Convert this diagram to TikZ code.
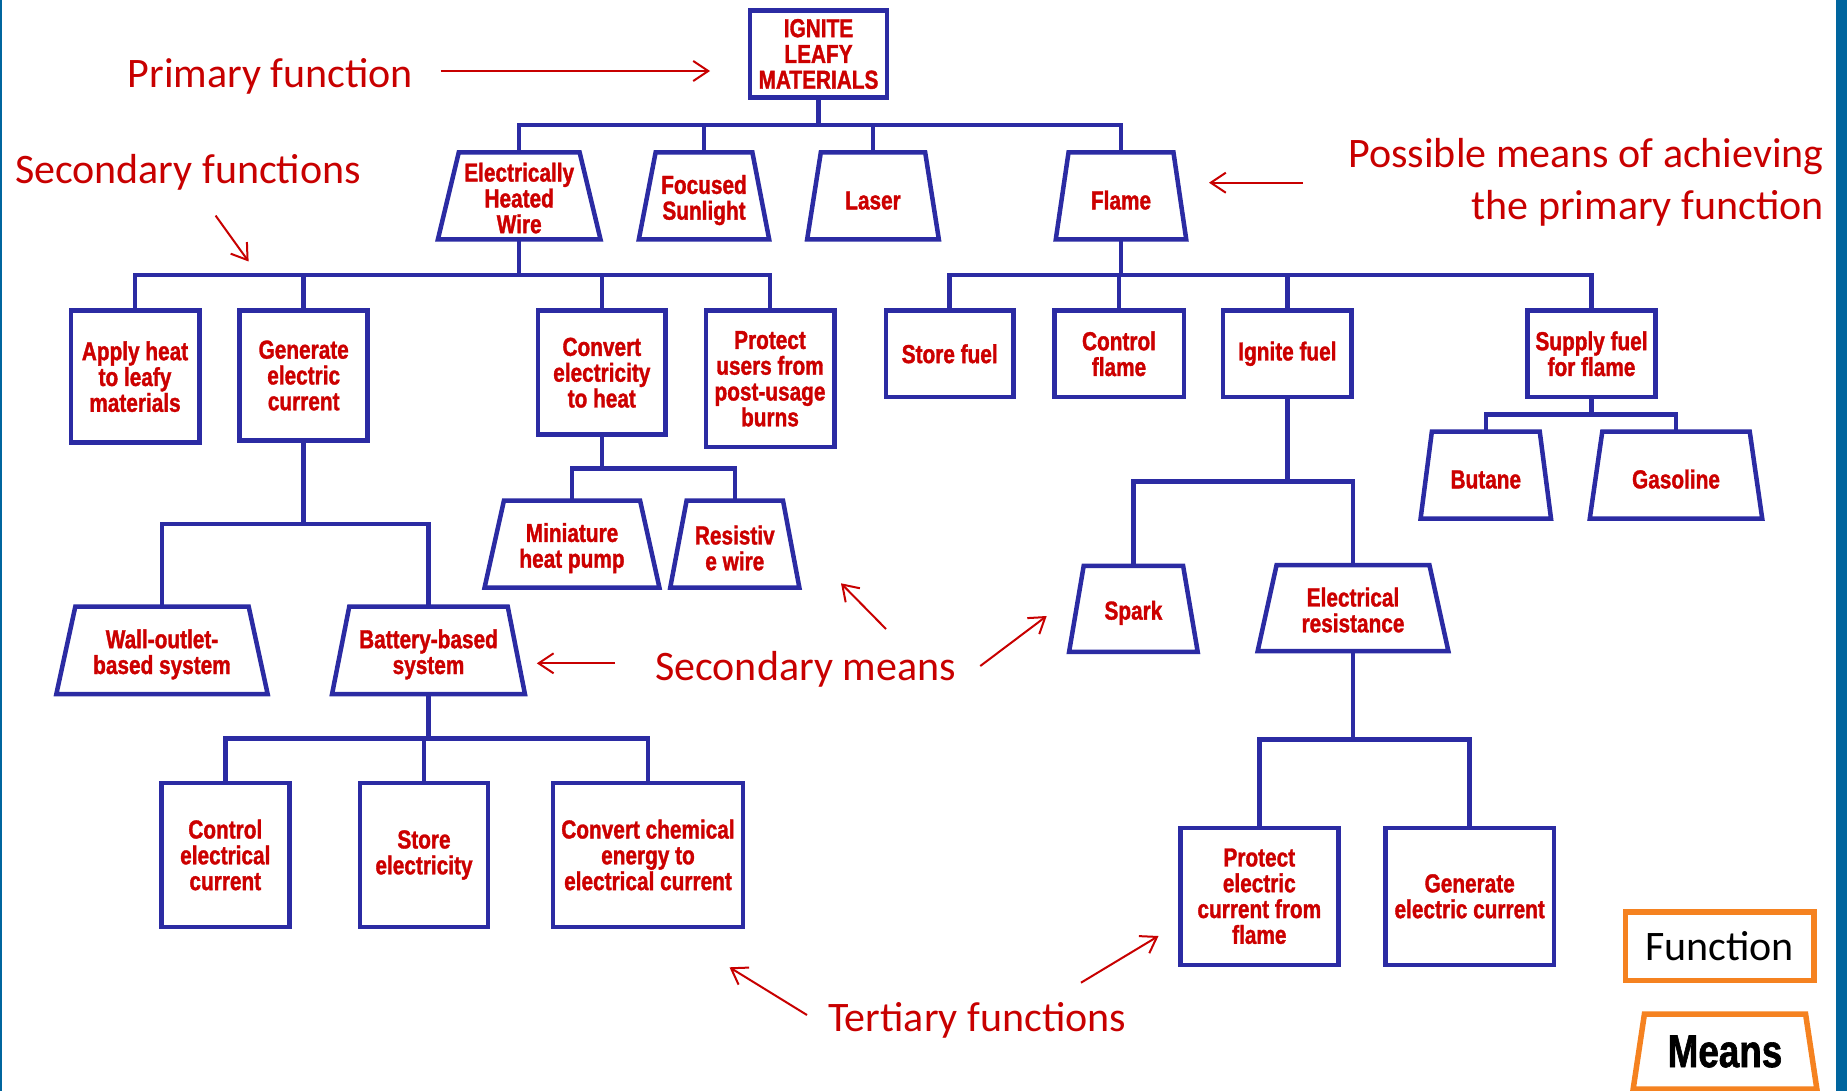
\documentclass[tikz,border=0pt]{standalone}
\usepackage{fontspec}
\usetikzlibrary{shapes.geometric,arrows.meta}
\newfontfamily\boxfont{Liberation Sans}[FakeStretch=0.8,FakeBold=1.3]
\newfontfamily\annfont{Carlito}
\definecolor{nblue}{RGB}{43,43,163}
\definecolor{tred}{RGB}{204,0,0}
\definecolor{ared}{RGB}{200,0,0}
\definecolor{lorange}{RGB}{245,130,32}
\definecolor{sidebar}{RGB}{0,101,158}
\newcommand\boxtext{\boxfont\bfseries\fontsize{26}{25.8}\selectfont}
\newcommand\anntext{\annfont\fontsize{42}{50}\selectfont}
\newcommand\lowstrut{\rule{0pt}{27pt}}
\newcommand\midstrut{\rule{0pt}{23pt}}
\tikzset{
  fbox/.style={draw=nblue, line width=4.5pt, rectangle, inner sep=2pt, outer sep=0pt,
    align=center, text=tred, font=\boxtext},
  mbox/.style={draw=nblue, line width=4.5pt, trapezium, trapezium left angle=76,
    trapezium right angle=76, trapezium stretches=true, inner sep=2pt, outer sep=0pt,
    align=center, text=tred, font=\boxtext},
  conn/.style={draw=nblue, line width=4.5pt},
  ann/.style={text=ared, font=\anntext, inner sep=0pt},
  aarrow/.style={draw=ared, line width=2pt, -{Straight Barb[length=15pt,width=20pt]}}
}
\begin{document}
\begin{tikzpicture}[x=1pt,y=-1pt]
\useasboundingbox (0,0) rectangle (1847,1091);
\fill[white] (0,0) rectangle (1847,1091);
\fill[sidebar] (1836,0) rectangle (1847,1091);
\fill[sidebar] (0,0) rectangle (1.5,1091);

% primary
\node[fbox, minimum width=137pt, minimum height=87pt] (ignite) at (818.5,54) {IGNITE\\LEAFY\\MATERIALS};
% means of primary
\node[mbox, minimum width=163pt, minimum height=87pt] (ehw) at (519.2,196) {\midstrut Electrically\\Heated\\Wire};
\node[mbox, minimum width=130.5pt, minimum height=87pt] (focused) at (704,196) {\lowstrut Focused\\Sunlight};
\node[mbox, minimum width=132pt, minimum height=87pt] (laser) at (873,196) {\lowstrut Laser};
\node[mbox, minimum width=131pt, minimum height=87pt] (flame) at (1121,196) {\lowstrut Flame};
% secondary functions (wire)
\node[fbox, minimum width=128.5pt, minimum height=132pt] (apply) at (135,376.7) {Apply heat\\to leafy\\materials};
\node[fbox, minimum width=128pt, minimum height=130pt] (generate) at (303.7,375.5) {Generate\\electric\\current};
\node[fbox, minimum width=127.5pt, minimum height=124pt] (convert) at (601.8,372.7) {Convert\\electricity\\to heat};
\node[fbox, minimum width=128.5pt, minimum height=136.5pt] (protect) at (770,378.8) {Protect\\users from\\post-usage\\burns};
% secondary functions (flame)
\node[fbox, minimum width=127.5pt, minimum height=86.5pt] (storefuel) at (949.7,353.8) {Store fuel};
\node[fbox, minimum width=129.5pt, minimum height=86.5pt] (controlflame) at (1119,353.8) {Control\\flame};
\node[fbox, minimum width=128.5pt, minimum height=86.5pt] (ignitefuel) at (1287.4,353.8) {Ignite fuel};
\node[fbox, minimum width=128pt, minimum height=86.5pt] (supply) at (1591.5,353.8) {Supply fuel\\for flame};
% secondary means
\node[mbox, minimum width=211.7pt, minimum height=87.5pt] (wall) at (162,650.3) {\lowstrut Wall-outlet-\\based system};
\node[mbox, minimum width=193pt, minimum height=87.5pt] (battery) at (428.5,650.3) {\lowstrut Battery-based\\system};
\node[mbox, minimum width=175pt, minimum height=87pt] (mini) at (572,544) {\lowstrut Miniature\\heat pump};
\node[mbox, minimum width=129.3pt, minimum height=87pt] (resist) at (734.8,544) {\lowstrut Resistiv\\e wire};
\node[mbox, minimum width=128.7pt, minimum height=86pt] (spark) at (1133.4,608.8) {\lowstrut Spark};
\node[mbox, minimum width=190.8pt, minimum height=86pt] (elres) at (1353,608) {\midstrut Electrical\\resistance};
\node[mbox, minimum width=130.5pt, minimum height=87pt] (butane) at (1485.8,475) {\lowstrut Butane};
\node[mbox, minimum width=172.7pt, minimum height=87pt] (gasoline) at (1676,475) {\lowstrut Gasoline};
% tertiary functions
\node[fbox, minimum width=128pt, minimum height=144pt] (ctrlelec) at (225.3,855) {Control\\electrical\\current};
\node[fbox, minimum width=128pt, minimum height=144pt] (storeelec) at (424,855) {Store\\electricity};
\node[fbox, minimum width=190.3pt, minimum height=144pt] (convchem) at (648,855) {Convert chemical\\energy to\\electrical current};
\node[fbox, minimum width=158pt, minimum height=137pt] (protelec) at (1259.3,896.3) {Protect\\electric\\current from\\flame};
\node[fbox, minimum width=168.5pt, minimum height=137pt] (genelec) at (1469.7,896.3) {Generate\\electric current};

% connectors
\draw[conn] (ignite.south) -- (ignite.south |- 0,125);
\draw[conn] (ehw.north) |- (flame.north |- 0,125) -- (flame.north);
\draw[conn] (focused.north) -- (focused.north |- 0,125);
\draw[conn] (laser.north) -- (laser.north |- 0,125);

\draw[conn] (ehw.south) -- (ehw.south |- 0,275);
\draw[conn] (apply.north) |- (protect.north |- 0,275) -- (protect.north);
\draw[conn] (generate.north) -- (generate.north |- 0,275);
\draw[conn] (convert.north) -- (convert.north |- 0,275);

\draw[conn] (flame.south) -- (flame.south |- 0,275);
\draw[conn] (storefuel.north) |- (supply.north |- 0,275) -- (supply.north);
\draw[conn] (controlflame.north) -- (controlflame.north |- 0,275);
\draw[conn] (ignitefuel.north) -- (ignitefuel.north |- 0,275);

\draw[conn] (generate.south) -- (generate.south |- 0,524);
\draw[conn] (wall.north) |- (battery.north |- 0,524) -- (battery.north);

\draw[conn] (convert.south) -- (convert.south |- 0,468.3);
\draw[conn] (mini.north) |- (resist.north |- 0,468.3) -- (resist.north);

\draw[conn] (battery.south) -- (battery.south |- 0,738.3);
\draw[conn] (ctrlelec.north) |- (convchem.north |- 0,738.3) -- (convchem.north);
\draw[conn] (storeelec.north) -- (storeelec.north |- 0,738.3);

\draw[conn] (ignitefuel.south) -- (ignitefuel.south |- 0,481.7);
\draw[conn] (spark.north) |- (elres.north |- 0,481.7) -- (elres.north);

\draw[conn] (supply.south) -- (supply.south |- 0,414.3);
\draw[conn] (butane.north) |- (gasoline.north |- 0,414.3) -- (gasoline.north);

\draw[conn] (elres.south) -- (elres.south |- 0,739.3);
\draw[conn] (protelec.north) |- (genelec.north |- 0,739.3) -- (genelec.north);

% annotations
\node[ann, anchor=base west] (tprim) at (127.5,88) {Primary function};
\node[ann, anchor=base west] (tsecf) at (14.8,184) {Secondary functions};
\node[ann, anchor=base east] (tposs1) at (1824,168) {Possible means of achieving};
\node[ann, anchor=base east] (tposs2) at (1824,220) {the primary function};
\node[ann, anchor=base west] (tsecm) at (655,680) {Secondary means};
\node[ann, anchor=base west] (tter) at (828,1031) {Tertiary functions};

\coordinate (a1s) at (440.7,71);   \coordinate (a1e) at (710,71);
\coordinate (a2s) at (215.6,215.6); \coordinate (a2e) at (248.6,261.5);
\coordinate (a3s) at (1303,182.7); \coordinate (a3e) at (1209,182.7);
\coordinate (a4s) at (615,663.3);  \coordinate (a4e) at (536.8,663.3);
\coordinate (a5s) at (886,629);    \coordinate (a5e) at (841,583.3);
\coordinate (a6s) at (980.3,666);  \coordinate (a6e) at (1046.7,616);
\coordinate (a7s) at (807,1015);   \coordinate (a7e) at (729.5,967.3);
\coordinate (a8s) at (1081,982.7); \coordinate (a8e) at (1158.5,936);
\draw[aarrow] (a1s) -- (a1e);
\draw[aarrow] (a2s) -- (a2e);
\draw[aarrow] (a3s) -- (a3e);
\draw[aarrow] (a4s) -- (a4e);
\draw[aarrow] (a5s) -- (a5e);
\draw[aarrow] (a6s) -- (a6e);
\draw[aarrow] (a7s) -- (a7e);
\draw[aarrow] (a8s) -- (a8e);

% legend
\node[draw=lorange, line width=5.5pt, rectangle, outer sep=0pt, inner sep=0pt,
  minimum width=188.5pt, minimum height=68.5pt, font=\annfont\fontsize{42}{48}\selectfont]
  (legf) at (1719.7,946.3) {Function};
\node[draw=lorange, line width=5.5pt, trapezium, trapezium left angle=76, trapezium right angle=76,
  trapezium stretches=true, outer sep=0pt, inner sep=0pt, minimum width=183.7pt, minimum height=75pt,
  font=\boxfont\bfseries\fontsize{46}{48}\selectfont]
  (legm) at (1725,1051.5) {Means};
\end{tikzpicture}
\end{document}
